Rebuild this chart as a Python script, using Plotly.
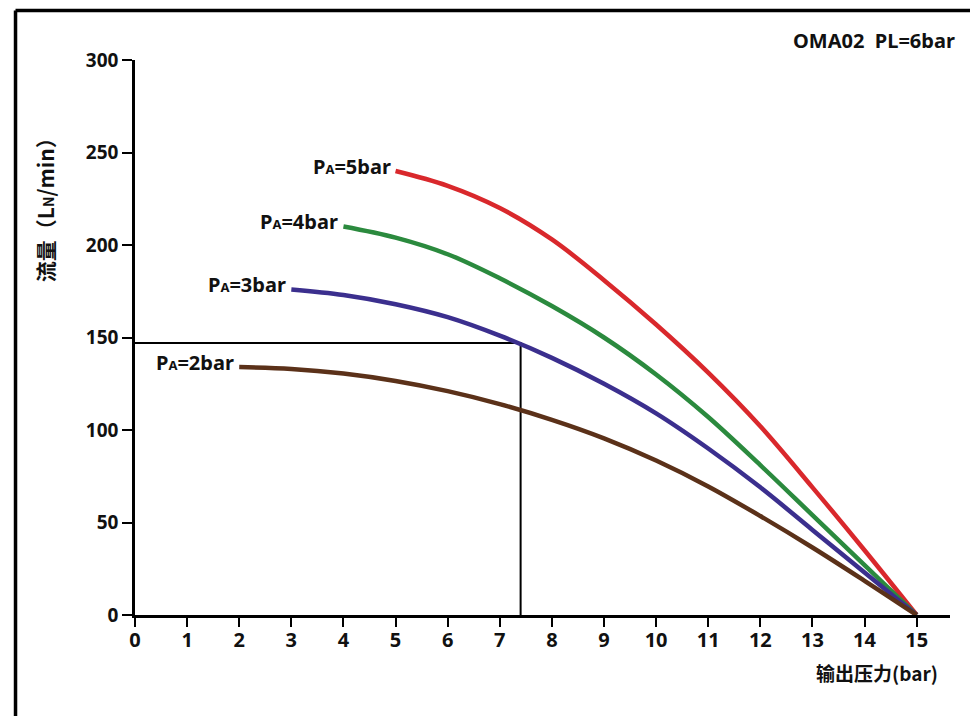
import plotly.graph_objects as go

# Flow curves of OMA02 at PL = 6 bar, one per supply pressure PA
x_pa5 = [5, 6, 7, 8, 9, 10, 11, 12, 13, 14, 15]
y_pa5 = [240, 232, 220, 203, 181, 157, 131, 102, 69, 35, 0]

x_pa4 = [4, 5, 6, 7, 8, 9, 10, 11, 12, 13, 14, 15]
y_pa4 = [210, 204, 195, 182, 167, 150, 130, 107, 81, 54, 27, 0]

x_pa3 = [3, 4, 5, 6, 7, 8, 9, 10, 11, 12, 13, 14, 15]
y_pa3 = [176, 173, 168, 161, 151, 139, 125, 109, 90, 69, 46, 23, 0]

x_pa2 = [2, 3, 4, 5, 6, 7, 8, 9, 10, 11, 12, 13, 14, 15]
y_pa2 = [134, 133, 130.5, 126.5, 121, 114, 105.5, 95.5, 83.5, 69.5, 53.5, 36.5, 18.5, 0]

curve_names = ["5bar", "4bar", "3bar", "2bar"]
curve_colors = ["#d9282c", "#2b8a3e", "#3b2f8e", "#5b3119"]

# Example working point read on the PA=3bar curve
op_x = 7.4
op_y = 147

x_ticks = list(range(0, 16))
y_ticks = [0, 50, 100, 150, 200, 250, 300]

FONT = "Noto Sans, Open Sans, Noto Sans CJK SC, sans-serif"
CJK = "Noto Sans CJK SC, Noto Sans, sans-serif"
INK = "#111111"

fig = go.Figure()

# guide lines to the working point
fig.add_trace(go.Scatter(
    x=[0, op_x, op_x], y=[op_y, op_y, 0], mode="lines",
    line=dict(color="black", width=2), hoverinfo="skip", showlegend=False,
))

series = [(x_pa5, y_pa5), (x_pa4, y_pa4), (x_pa3, y_pa3), (x_pa2, y_pa2)]
for (xs, ys), name, color in zip(series, curve_names, curve_colors):
    fig.add_trace(go.Scatter(
        x=xs, y=ys, mode="lines", name=name,
        line=dict(color=color, width=4.5, shape="spline", smoothing=1.0),
        showlegend=False,
    ))
    fig.add_annotation(
        x=xs[0], y=ys[0], xref="x", yref="y",
        text="P<span style='font-size:13px'>A</span>=" + name,
        showarrow=False, xanchor="right", yanchor="middle",
        xshift=-3, yshift=5,
        font=dict(family=FONT, size=20, color=INK, weight="bold"),
    )

fig.add_annotation(
    x=1.0086, y=1.036, xref="paper", yref="paper",
    text="OMA02  PL=6bar", showarrow=False, xanchor="right", yanchor="middle",
    font=dict(family=FONT, size=20, color=INK, weight="bold"),
)
fig.add_annotation(
    x=-0.110, y=0.739, xref="paper", yref="paper", textangle=-90,
    text="流量（L<span style='font-size:14px'>N</span>/min）", showarrow=False,
    xanchor="center", yanchor="middle",
    font=dict(family=CJK, size=21, color=INK, weight="bold"),
)
fig.add_annotation(
    x=0.9104, y=-0.1045, xref="paper", yref="paper",
    text="输出压力(bar)", showarrow=False, xanchor="center", yanchor="middle",
    font=dict(family=CJK, size=19, color=INK, weight="bold"),
)

# outer frame (top and left edges)
frame = dict(color="black", width=3.5)
fig.add_shape(type="line", xref="paper", yref="paper",
              x0=-0.1466, x1=1.03, y0=1.0892, y1=1.0892, line=frame)
fig.add_shape(type="line", xref="paper", yref="paper",
              x0=-0.1466, x1=-0.1466, y0=1.0892, y1=-0.19, line=frame)

fig.update_xaxes(
    range=[0, 15.64], tickvals=x_ticks, ticktext=[str(v) for v in x_ticks],
    showgrid=False, zeroline=False, showline=True, linecolor="black", linewidth=2.5,
    ticks="outside", ticklen=9, tickwidth=2, tickcolor="black", ticklabelstandoff=-4,
    tickfont=dict(family=FONT, size=20, color=INK, weight="bold"),
)
fig.update_yaxes(
    range=[0, 300], tickvals=y_ticks, ticktext=[str(v) for v in y_ticks],
    showgrid=False, zeroline=False, showline=True, linecolor="black", linewidth=2.5,
    ticks="outside", ticklen=10, tickwidth=2, tickcolor="black",
    tickfont=dict(family=FONT, size=19, color=INK, weight="bold"),
)

fig.update_layout(
    width=970, height=716,
    margin=dict(l=135, r=20, t=60, b=101),
    plot_bgcolor="white", paper_bgcolor="white",
    showlegend=False,
)

fig.write_html("out.html")
